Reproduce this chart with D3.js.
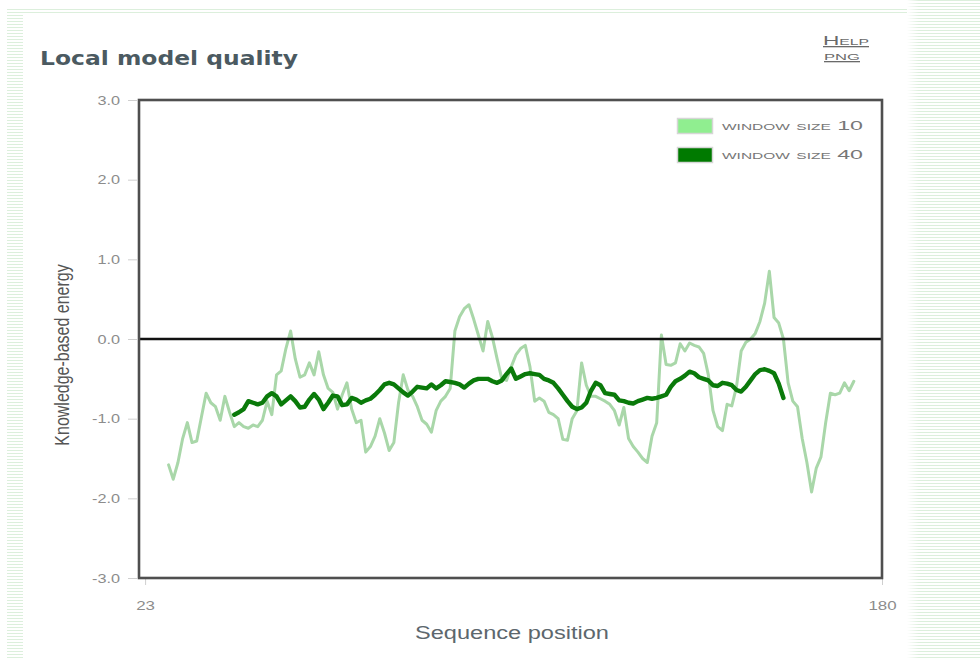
<!DOCTYPE html>
<html>
<head>
<meta charset="utf-8">
<script src="https://cdn.jsdelivr.net/npm/d3@7"></script>
<style>
  html, body { margin: 0; padding: 0; background: #fff; }
  body { width: 980px; height: 660px; overflow: hidden; }
  svg { display: block; }
</style>
</head>
<body>
<svg id="chart" width="980" height="660"></svg>
<script>
// Sequence range and axis ticks
const seqTicks = [23, 180];
const energyTicks = [3, 2, 1, 0, -1, -2, -3];

// Window size 10 profile: first residue and one value per residue
const window10Start = 28;
const window10Values = [
  -1.58, -1.76, -1.55, -1.25, -1.05, -1.30, -1.28, -0.98, -0.68, -0.80,
  -0.85, -1.02, -0.72, -0.92, -1.10, -1.05, -1.10, -1.12, -1.08, -1.10,
  -1.02, -0.78, -0.95, -0.45, -0.40, -0.12, 0.10, -0.25, -0.48, -0.45,
  -0.30, -0.45, -0.16, -0.45, -0.62, -0.67, -0.88, -0.70, -0.55, -0.88,
  -1.05, -1.02, -1.42, -1.35, -1.22, -1.00, -1.18, -1.40, -1.30, -0.80,
  -0.45, -0.64, -0.72, -0.85, -1.02, -1.07, -1.17, -0.90, -0.78, -0.72,
  -0.62, 0.10, 0.28, 0.38, 0.43, 0.25, 0.05, -0.15, 0.22, 0.02,
  -0.25, -0.50, -0.52, -0.35, -0.20, -0.12, -0.08, -0.35, -0.78, -0.74,
  -0.78, -0.92, -0.95, -1.00, -1.26, -1.27, -1.00, -0.90, -0.30, -0.58,
  -0.72, -0.72, -0.75, -0.78, -0.82, -0.90, -1.08, -0.86, -1.25, -1.35,
  -1.42, -1.50, -1.55, -1.22, -1.05, 0.05, -0.32, -0.33, -0.30, -0.06,
  -0.15, -0.05, -0.08, -0.10, -0.18, -0.45, -0.90, -1.10, -1.15, -0.82,
  -0.84, -0.60, -0.15, -0.04, 0.00, 0.07, 0.22, 0.45, 0.85, 0.27,
  0.20, 0.00, -0.55, -0.78, -0.85, -1.25, -1.55, -1.92, -1.62, -1.48,
  -1.05, -0.68, -0.70, -0.68, -0.55, -0.65, -0.53
];

// Window size 40 profile: first residue and one value per residue
const window40Start = 42;
const window40Values = [
  -0.95, -0.92, -0.88, -0.78, -0.80, -0.82, -0.80, -0.72, -0.68, -0.72,
  -0.82, -0.77, -0.72, -0.78, -0.86, -0.85, -0.76, -0.69, -0.76, -0.88,
  -0.80, -0.71, -0.72, -0.83, -0.82, -0.74, -0.76, -0.80, -0.77, -0.75,
  -0.70, -0.64, -0.57, -0.55, -0.57, -0.62, -0.67, -0.71, -0.66, -0.60,
  -0.61, -0.62, -0.57, -0.62, -0.58, -0.53, -0.54, -0.55, -0.57, -0.61,
  -0.56, -0.52, -0.50, -0.50, -0.50, -0.53, -0.55, -0.52, -0.44, -0.37,
  -0.50, -0.47, -0.44, -0.43, -0.44, -0.45, -0.50, -0.52, -0.55, -0.62,
  -0.70, -0.78, -0.85, -0.88, -0.86, -0.80, -0.65, -0.55, -0.58, -0.68,
  -0.69, -0.70, -0.77, -0.78, -0.80, -0.81, -0.78, -0.76, -0.74, -0.75,
  -0.74, -0.72, -0.70, -0.60, -0.53, -0.50, -0.46, -0.41, -0.43, -0.48,
  -0.50, -0.52, -0.58, -0.59, -0.55, -0.56, -0.58, -0.64, -0.66, -0.60,
  -0.52, -0.44, -0.39, -0.38, -0.40, -0.43, -0.56, -0.74
];

const legendLabels = ["window size 10", "window size 40"];
const seriesColors = ["#a9d7a9", "#0a7a0a"];
const swatchColors = ["#90ee90", "#007a00"];

const toPoints = (start, values) => values.map((v, i) => ({ pos: start + i, value: v }));
const series = [
  { label: legendLabels[0], points: toPoints(window10Start, window10Values), color: seriesColors[0], width: 3 },
  { label: legendLabels[1], points: toPoints(window40Start, window40Values), color: seriesColors[1], width: 4.4 }
];

const svg = d3.select("#chart");
const W = 980, H = 660;
const plot = { left: 139, right: 882, top: 100, bottom: 578 };
const SANS = "'Liberation Sans', Arial, sans-serif";

// Widen a text element horizontally by factor k
function widen(sel, k) {
  sel.each(function () {
    const len = this.getComputedTextLength();
    d3.select(this).attr("textLength", len * k).attr("lengthAdjust", "spacingAndGlyphs");
  });
}

// Page decoration: faint striped margins around the white panel
const defs = svg.append("defs");
const pat = defs.append("pattern").attr("id", "stripes")
  .attr("patternUnits", "userSpaceOnUse").attr("width", 6).attr("height", 3);
pat.append("rect").attr("width", 6).attr("height", 3).attr("fill", "#ffffff");
pat.append("rect").attr("width", 6).attr("height", 1).attr("fill", "#dcefdc");
const fade = defs.append("linearGradient").attr("id", "fadeEdge");
fade.append("stop").attr("offset", "0%").attr("stop-color", "#fff").attr("stop-opacity", 1);
fade.append("stop").attr("offset", "100%").attr("stop-color", "#fff").attr("stop-opacity", 0);

svg.append("rect").attr("width", W).attr("height", H).attr("fill", "#fff");
svg.append("rect").attr("x", 7).attr("y", 10).attr("width", 16).attr("height", H - 10).attr("fill", "url(#stripes)");
svg.append("rect").attr("x", 7).attr("y", 9).attr("width", 900).attr("height", 4).attr("fill", "url(#stripes)");
svg.append("rect").attr("x", 907).attr("y", 0).attr("width", W - 907).attr("height", H).attr("fill", "url(#stripes)");
svg.append("rect").attr("x", 907).attr("y", 0).attr("width", 12).attr("height", H).attr("fill", "url(#fadeEdge)");

// Title and links
svg.append("text")
  .attr("x", 40).attr("y", 65)
  .attr("font-family", "'DejaVu Sans', Verdana, sans-serif")
  .attr("font-weight", "bold").attr("font-size", 20)
  .attr("fill", "#4b5a61")
  .attr("textLength", 258).attr("lengthAdjust", "spacingAndGlyphs")
  .text("Local model quality");

const linkStyle = sel => sel
  .attr("font-family", SANS)
  .attr("font-size", 13).attr("fill", "#6a6a6a")
  .style("font-variant", "small-caps")
  .style("text-decoration", "underline")
  .attr("lengthAdjust", "spacingAndGlyphs");
svg.append("text").attr("x", 823).attr("y", 45).attr("textLength", 46).call(linkStyle).text("Help");
svg.append("text").attr("x", 824).attr("y", 60).attr("textLength", 36).call(linkStyle).text("png");

// Scales
const x = d3.scaleLinear().domain([21.7, 180]).range([plot.left, plot.right]);
const y = d3.scaleLinear().domain([-3, 3]).range([plot.bottom, plot.top]);
const fmt1 = v => d3.format(".1f")(v).replace("\u2212", "-");

// Y axis
const yAxis = svg.append("g")
  .attr("transform", `translate(${plot.left - 2},0)`)
  .call(d3.axisLeft(y).tickValues(energyTicks).tickFormat(fmt1).tickSize(9).tickPadding(8));
yAxis.select(".domain").remove();
yAxis.selectAll(".tick line").attr("stroke", "#cfcfcf");
yAxis.selectAll(".tick text")
  .attr("font-family", SANS)
  .attr("font-size", 12.5).attr("fill", "#8c8c8c")
  .call(widen, 1.3);

// X axis
const xAxis = svg.append("g")
  .attr("transform", `translate(0,${plot.bottom + 1})`)
  .call(d3.axisBottom(x).tickValues(seqTicks).tickFormat(d3.format("d")).tickSize(6).tickPadding(16));
xAxis.select(".domain").remove();
xAxis.selectAll(".tick line").attr("stroke", "#cfcfcf");
xAxis.selectAll(".tick text")
  .attr("font-family", SANS)
  .attr("font-size", 13).attr("fill", "#8c8c8c")
  .call(widen, 1.3);

// Axis titles
svg.append("text")
  .attr("transform", `translate(69,${(plot.top + plot.bottom) / 2 + 16}) rotate(-90) scale(1,1.22)`)
  .attr("text-anchor", "middle")
  .attr("font-family", SANS)
  .attr("font-size", 16).attr("fill", "#555")
  .text("Knowledge-based energy");

svg.append("text")
  .attr("x", 512).attr("y", 639)
  .attr("text-anchor", "middle")
  .attr("font-family", SANS)
  .attr("font-size", 18).attr("fill", "#5d676d")
  .attr("textLength", 194).attr("lengthAdjust", "spacingAndGlyphs")
  .text("Sequence position");

// Plot area
const clip = defs.append("clipPath").attr("id", "plotClip");
clip.append("rect").attr("x", plot.left).attr("y", plot.top)
  .attr("width", plot.right - plot.left).attr("height", plot.bottom - plot.top);

const line = d3.line().x(d => x(d.pos)).y(d => y(d.value)).curve(d3.curveLinear);

const lines = svg.append("g").attr("clip-path", "url(#plotClip)");
series.forEach(s => {
  lines.append("path")
    .datum(s.points)
    .attr("fill", "none")
    .attr("stroke", s.color)
    .attr("stroke-width", s.width)
    .attr("stroke-linejoin", "round")
    .attr("stroke-linecap", "round")
    .attr("d", line);
});

// Zero reference line
svg.append("line")
  .attr("x1", plot.left).attr("x2", plot.right)
  .attr("y1", y(0)).attr("y2", y(0))
  .attr("stroke", "#111").attr("stroke-width", 2.5);

// Frame
svg.append("rect")
  .attr("x", plot.left).attr("y", plot.top)
  .attr("width", plot.right - plot.left).attr("height", plot.bottom - plot.top)
  .attr("fill", "none").attr("stroke", "#4f4f4f").attr("stroke-width", 2.6);

// Legend
const legend = svg.append("g");
legendLabels.forEach((lab, i) => {
  const gy = 118 + i * 29;
  legend.append("rect")
    .attr("x", 677.5).attr("y", gy + 0.5).attr("width", 35).attr("height", 15)
    .attr("fill", swatchColors[i]).attr("stroke", "#d6d6d6").attr("stroke-width", 1.5);
  legend.append("text")
    .attr("x", 722).attr("y", gy + 12)
    .attr("font-family", SANS)
    .attr("font-size", 13.5).attr("fill", "#777")
    .style("font-variant", "small-caps")
    .attr("textLength", 141).attr("lengthAdjust", "spacingAndGlyphs")
    .text(lab);
});
</script>
</body>
</html>
